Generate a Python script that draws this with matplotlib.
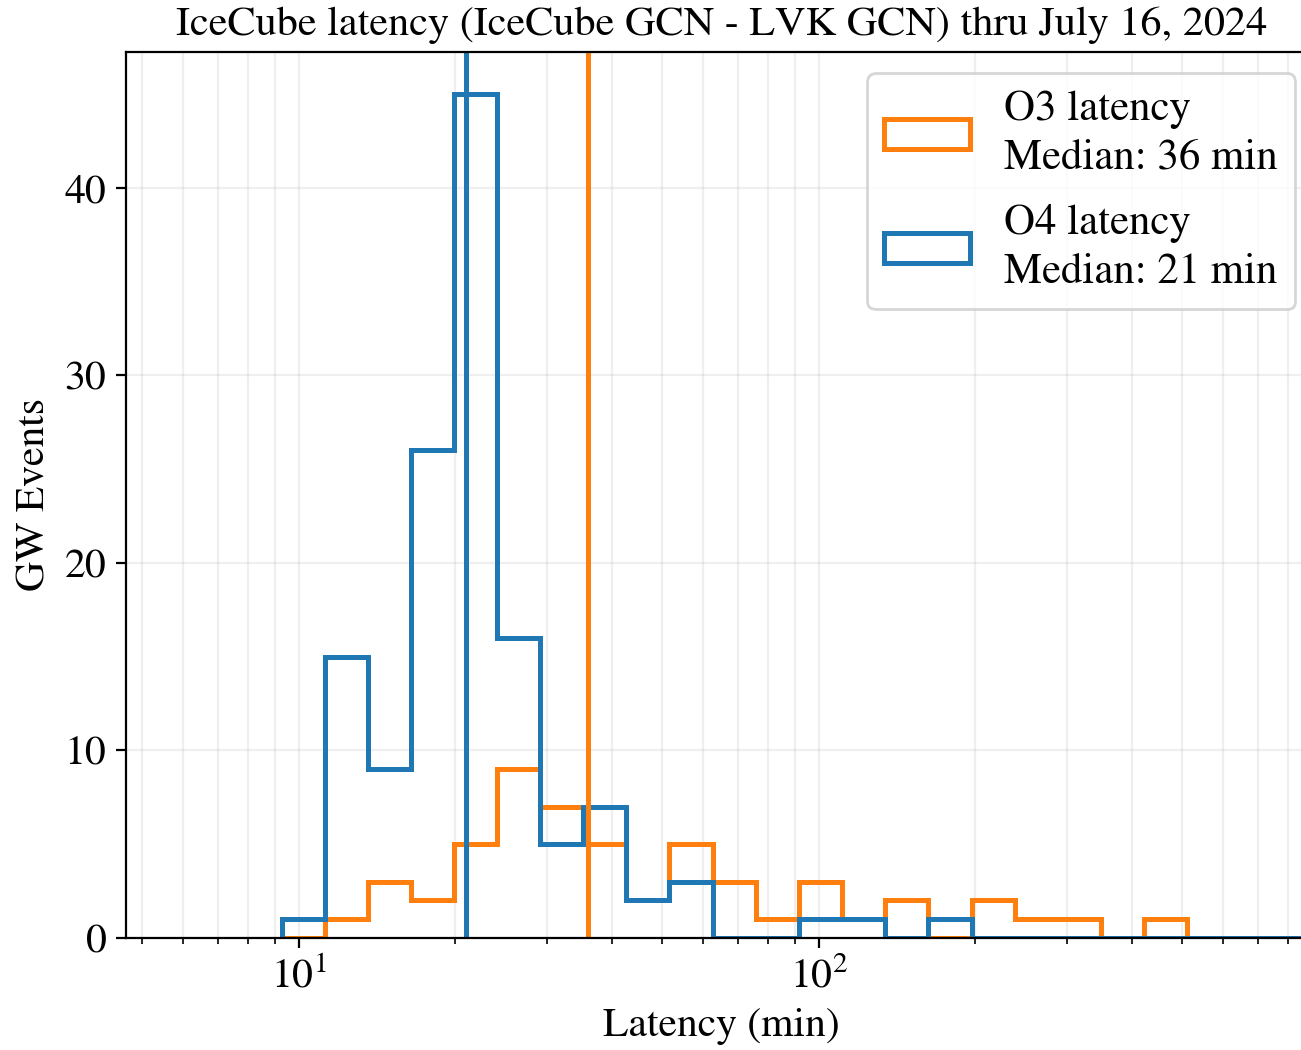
import numpy as np
import matplotlib
matplotlib.use("Agg")
import matplotlib.pyplot as plt

plt.rcParams["font.family"] = ["STIXGeneral", "DejaVu Serif"]
plt.rcParams["mathtext.fontset"] = "stix"
plt.rcParams["font.size"] = 15

# log-spaced latency bins (minutes)
bin_edges = [9.27, 11.22, 13.58, 16.43, 19.89, 24.07, 29.13, 35.25, 42.65,
             51.6, 62.5, 75.6, 91.5, 110.8, 134, 162, 197, 238, 288, 349,
             422, 511, 619, 749, 906]

# events per bin, O3 and O4 runs
o3_counts = [0, 1, 3, 2, 5, 9, 7, 5, 2, 5, 3, 1, 3, 1, 2, 0, 2, 1, 1, 0,
             1, 0, 0, 0]
o4_counts = [1, 15, 9, 26, 45, 16, 5, 7, 2, 3, 0, 0, 1, 1, 0, 1, 0, 0, 0, 0,
             0, 0, 0, 0]

o3_median = 36
o4_median = 21

o3_color = "tab:orange"
o4_color = "tab:blue"

fig = plt.figure(figsize=(6.505, 5.25), dpi=200)
ax = fig.add_axes([0.0968, 0.1067, 0.9151, 0.8438])

edges = np.array(bin_edges)
ax.hist(edges[:-1], bins=edges, weights=o3_counts, histtype="step", lw=1.8,
        color=o3_color, label=f"O3 latency\nMedian: {o3_median} min")
ax.hist(edges[:-1], bins=edges, weights=o4_counts, histtype="step", lw=1.8,
        color=o4_color, label=f"O4 latency\nMedian: {o4_median} min")
ax.axvline(o3_median, color=o3_color, lw=1.8)
ax.axvline(o4_median, color=o4_color, lw=1.8)

ax.set_xscale("log")
ax.set_xlim(4.65, 906)
ax.set_yticks([0, 10, 20, 30, 40])
ax.grid(True, which="both", alpha=0.2)
ax.set_axisbelow(True)

ax.set_xlabel("Latency (min)")
ax.set_ylabel("GW Events")
ax.set_title("IceCube latency (IceCube GCN - LVK GCN) thru July 16, 2024",
             fontsize=15.2)
leg = ax.legend(loc="upper right", fontsize=15.4, labelspacing=0.62)
for t in leg.get_texts():
    t.set_linespacing(1.35)

fig.savefig("out.png", dpi=200)
